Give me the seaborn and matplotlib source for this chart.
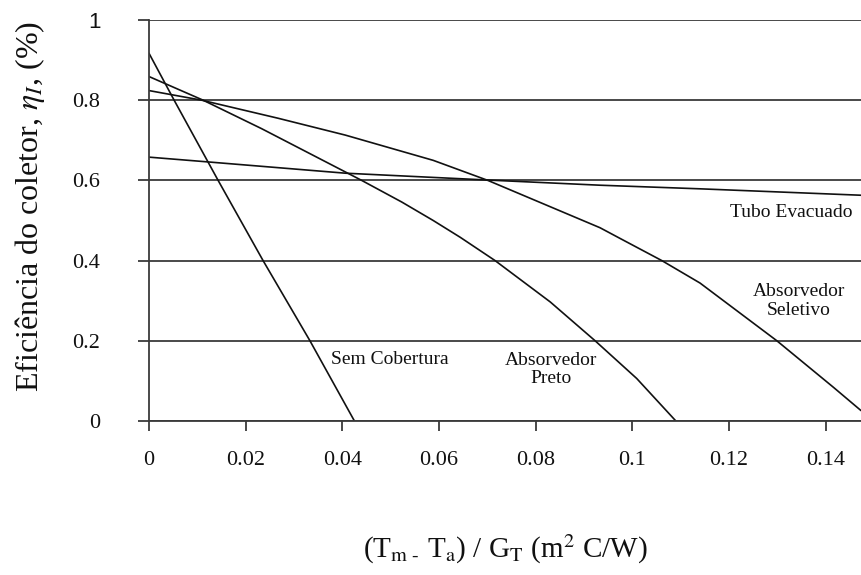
import matplotlib
matplotlib.use("Agg")
import matplotlib.pyplot as plt
import seaborn as sns
import pandas as pd

# ---- data ----
sem_x = [0, 0.0052, 0.0143, 0.0236, 0.0333, 0.0425]
sem_y = [0.917, 0.8, 0.6, 0.4, 0.2, 0.0]

preto_x = [0, 0.0112, 0.0233, 0.0371, 0.044, 0.0523, 0.0588, 0.0644, 0.0716, 0.083, 0.0923, 0.1009, 0.109]
preto_y = [0.859, 0.8, 0.729, 0.643, 0.6, 0.546, 0.50, 0.458, 0.4, 0.297, 0.2, 0.106, 0.0]

selet_x = [0, 0.0109, 0.0267, 0.0406, 0.0588, 0.0701, 0.0933, 0.0975, 0.1061, 0.114, 0.1299, 0.1416, 0.1473]
selet_y = [0.824, 0.8, 0.755, 0.713, 0.650, 0.6, 0.482, 0.455, 0.4, 0.344, 0.2, 0.084, 0.026]

tubo_x = [0, 0.0123, 0.0406, 0.0613, 0.0699, 0.0933, 0.114, 0.1473]
tubo_y = [0.658, 0.646, 0.618, 0.606, 0.601, 0.588, 0.579, 0.563]

series_names = ["Sem Cobertura", "Absorvedor Preto", "Absorvedor Seletivo", "Tubo Evacuado"]

x_ticks = [0, 0.02, 0.04, 0.06, 0.08, 0.10, 0.12, 0.14]
x_ticklabels = ["0", "0.02", "0.04", "0.06", "0.08", "0.1", "0.12", "0.14"]
y_ticks = [0, 0.2, 0.4, 0.6, 0.8, 1.0]
y_ticklabels = ["0", "0.2", "0.4", "0.6", "0.8", "1"]

# annotation labels (text, x, y)
ann_text = ["Sem Cobertura", "Absorvedor\nPreto", "Absorvedor\nSeletivo", "Tubo Evacuado"]
ann_x = [0.0499, 0.0832, 0.1345, 0.1328]
ann_y = [0.154, 0.129, 0.299, 0.520]

# ---- build table ----
frames = []
for name, xs, ys in zip(series_names,
                        [sem_x, preto_x, selet_x, tubo_x],
                        [sem_y, preto_y, selet_y, tubo_y]):
    frames.append(pd.DataFrame({"x": xs, "y": ys, "serie": name}))
df = pd.concat(frames, ignore_index=True)

sns.set_theme(style="white")
plt.rcParams["font.family"] = ["Liberation Serif", "DejaVu Serif"]
plt.rcParams["mathtext.fontset"] = "stix"

fig = plt.figure(figsize=(8.61, 5.75), dpi=100)
ax = fig.add_axes([149 / 861, 154 / 575, 712 / 861, 401 / 575])

sns.lineplot(data=df, x="x", y="y", hue="serie", units="serie", estimator=None,
             sort=False, palette=["#111111"] * 4, linewidth=1.2, legend=False, ax=ax)

ax.set_xlim(0, 0.1473)
ax.set_ylim(0, 1.0)

ax.set_xticks(x_ticks)
ax.set_xticklabels(x_ticklabels, fontsize=16)
ax.set_yticks(y_ticks)
ax.set_yticklabels(y_ticklabels, fontsize=16)
ax.get_yticklabels()[-1].set_family("Liberation Sans")

ax.yaxis.grid(True, color="#3a3a3a", linewidth=1.3)
ax.xaxis.grid(False)
for side in ["top", "right"]:
    ax.spines[side].set_visible(False)
ax.spines["left"].set_color("#3a3a3a")
ax.spines["left"].set_linewidth(1.3)
ax.spines["bottom"].set_color("#3a3a3a")
ax.spines["bottom"].set_linewidth(1.3)

ax.tick_params(axis="y", direction="out", length=8, width=1.3, color="#3a3a3a",
               pad=27, left=True, labelcolor="#111111")
ax.tick_params(axis="x", direction="out", length=7.5, width=1.3, color="#3a3a3a",
               pad=14, bottom=True, labelcolor="#111111")

ax.set_xlabel(r"(T$_{\mathrm{m}\ \text{-}}$ T$_{\mathrm{a}}$) / G$_{\mathrm{T}}$ (m$^{2}$ C/W)",
              fontsize=21, color="#111111", va="center")
ax.xaxis.set_label_coords(0.5, -0.32)
ax.set_ylabel(r"Eficiência do coletor, $\eta_I$, (%)", fontsize=23, color="#111111",
              va="center")
ax.yaxis.set_label_coords(-0.167, 0.536)

for t, xx, yy in zip(ann_text, ann_x, ann_y):
    ax.text(xx, yy, t, fontsize=14, ha="center", va="center", color="#111111",
            linespacing=1.1)

fig.savefig("out.png", dpi=100)
